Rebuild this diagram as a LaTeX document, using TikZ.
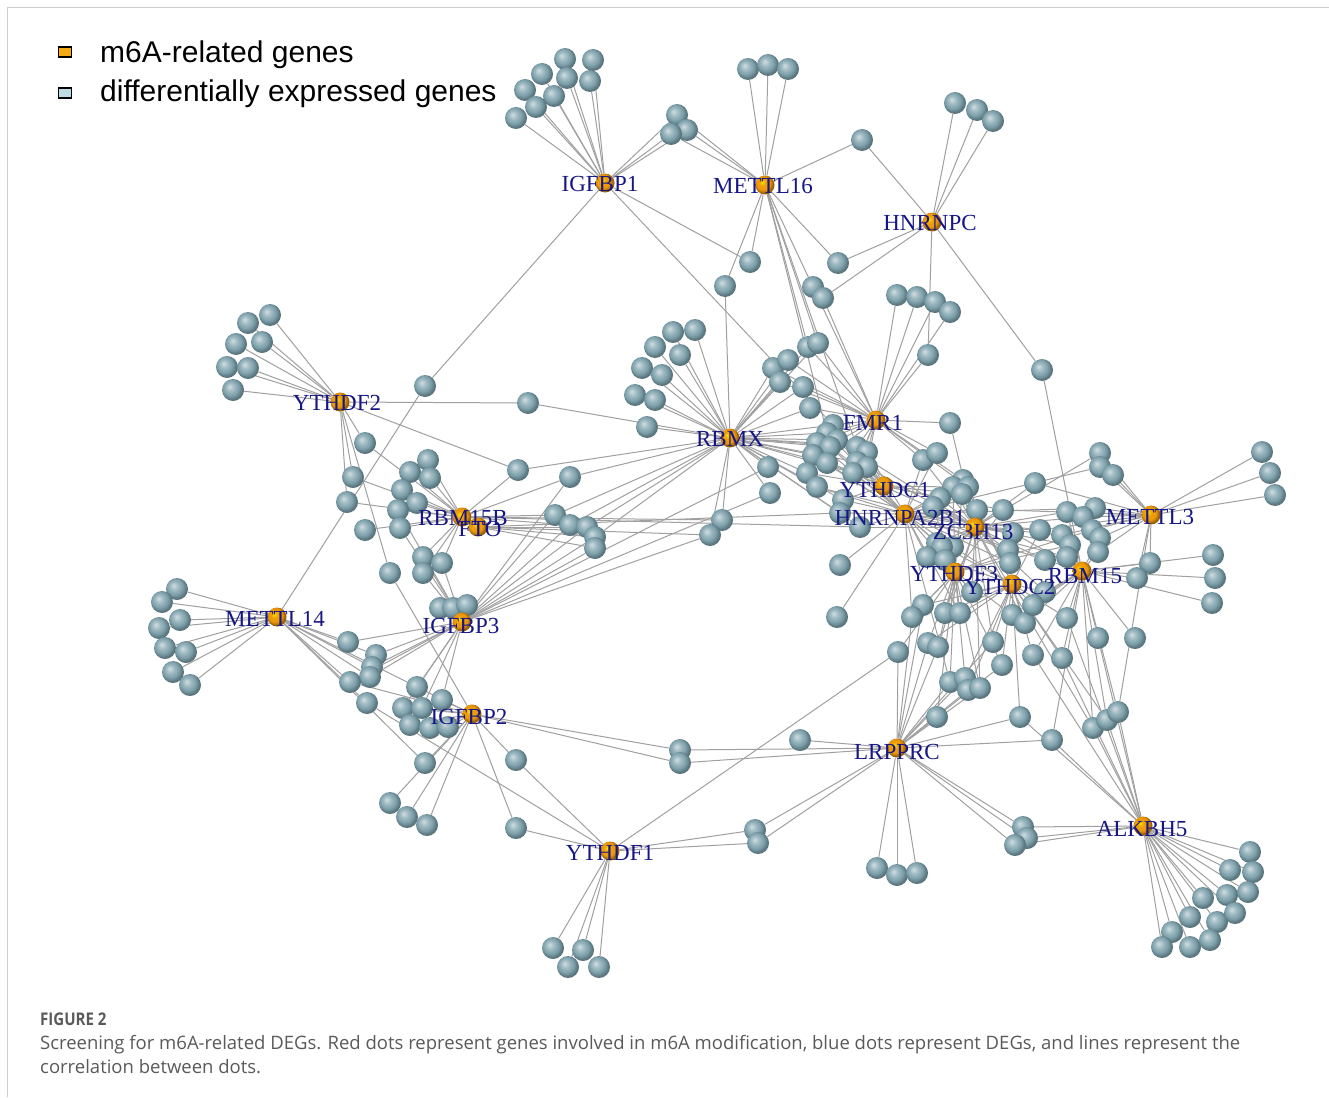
\documentclass[tikz,border=0pt]{standalone}
\usepackage{fontspec}
\setmainfont{Liberation Serif}
\newfontfamily\legfont{Liberation Sans}
\newfontfamily\capfont{Open Sans}
\definecolor{leafc}{RGB}{124,160,171}
\definecolor{hubc}{RGB}{235,150,10}
\definecolor{edgec}{RGB}{160,160,160}
\definecolor{lblc}{RGB}{22,22,135}
\definecolor{capc}{RGB}{90,90,90}
\definecolor{framec}{RGB}{205,205,205}
\definecolor{legorange}{RGB}{245,170,20}
\definecolor{legblue}{RGB}{190,220,228}
\pgfdeclareradialshading{leafball}{\pgfqpoint{-8bp}{8bp}}{color(0bp)=(leafc!35!white); color(9bp)=(leafc!72!white); color(18bp)=(leafc); color(25bp)=(leafc!75!black); color(50bp)=(leafc!45!black)}
\pgfdeclareradialshading{hubball}{\pgfqpoint{-8bp}{8bp}}{color(0bp)=(yellow!70!hubc); color(9bp)=(hubc!90!yellow); color(18bp)=(hubc); color(25bp)=(hubc!65!black); color(50bp)=(hubc!30!black)}
\pgfdeclarelayer{edges}
\pgfdeclarelayer{top}
\pgfsetlayers{edges,main,top}
\tikzset{
  leaf/.style={circle, inner sep=0pt, minimum size=22pt, shading=leafball},
  hub/.style={circle, inner sep=0pt, minimum size=19pt, shading=hubball},
  edge/.style={draw=edgec, line width=1pt},
  lbl/.style={text=lblc, inner sep=0pt, anchor=base, font=\fontsize{23}{23}\selectfont},
  legbox/.style={draw=black, line width=1.3pt, minimum width=13pt, minimum height=10pt, inner sep=0pt},
  legtext/.style={anchor=base west, inner sep=0pt, font=\legfont\fontsize{30}{30}\selectfont, text=black},
  captext/.style={anchor=base west, inner sep=0pt, text=capc, font=\capfont\fontsize{18.5}{18.5}\selectfont}
}
\begin{document}
\begin{tikzpicture}[x=1pt,y=-1pt]
\useasboundingbox (0,0) rectangle (1329,1097);
\begin{pgfonlayer}{edges}
\fill[white] (0,0) rectangle (1329,1097);
\draw[framec, line width=1pt] (7.5,1097) -- (7.5,7.5) -- (1329,7.5);
\end{pgfonlayer}

% hubs
\begin{pgfonlayer}{top}
\foreach \n/\x/\y in {IA/605/183, M16/765/185, HC/932/222, Y2/340/402, RX/730/438, FM/876/420, C1/884/486, HA/905/514, ZC/975/527, M3/1151/515, RB/462/517, FT/478/527, Y3/955/572, C2/1012/584, R15/1082/571, M14/277/617, I3/462/622, I2/472/714, LR/897/748, AK/1143/826, Y1/610/851}
  {\node[hub] (\n) at (\x,\y) {};}
\end{pgfonlayer}

% leaves and their connectors
\foreach \x/\y/\hs [count=\i] in {
565/59/IA, 593/60/IA, 542/74/IA, 567/78/IA, 590/81/IA, 525/90/IA, 554/96/IA, 536/107/IA, 516/118/IA,
677/115/{IA,M16}, 687/130/{IA,M16}, 671/134/{IA,M16}, 425/386/{IA,M14},
748/69/M16, 768/65/M16, 788/69/M16, 862/140/{M16,HC}, 750/262/{IA,M16}, 725/286/{M16,RX}, 838/263/{M16,HC},
955/103/HC, 977/110/HC, 993/121/HC, 928/355/{HC,FM}, 1042/370/{HC,R15},
270/315/Y2, 248/323/Y2, 236/344/Y2, 262/342/Y2, 227/367/Y2, 248/368/Y2, 233/390/Y2,
528/403/{Y2,RX}, 365/443/{Y2,RB}, 353/477/{Y2,RB}, 347/502/{Y2,RB}, 518/470/{Y2,RX,RB}, 390/573/{Y2,I2},
673/332/RX, 695/330/RX, 655/347/RX, 680/355/RX, 642/368/RX, 662/375/RX, 635/395/RX, 655/400/RX, 647/427/RX,
773/368/{RX,FM}, 788/360/{RX,FM}, 780/382/{RX,FM}, 803/387/{RX,FM}, 810/408/{RX,FM}, 808/347/{RX,FM,M16}, 818/343/{RX,FM,M16},
813/287/{M16,FM}, 823/298/{HC,FM}, 768/467/{RX,I3}, 770/493/{RX,I3}, 722/520/{RX,RB}, 710/535/{RX,FT,I3},
897/295/FM, 917/297/FM, 935/302/FM, 950/312/FM, 950/423/{FM,ZC},
833/425/{RX,FM,C1,IA}, 827/433/{RX,FM,HA,M16}, 837/440/{RX,C1,ZC}, 817/443/{RX,FM,HA}, 830/447/{RX,C1,HA}, 813/455/{RX,FM,HA,ZC},
827/463/{RX,C1,HA}, 807/473/{RX,FM,C1}, 817/487/{RX,HA,ZC}, 857/447/{RX,FM,C1,M16}, 867/452/{FM,C1,HA}, 857/462/{RX,FM,HA},
867/467/{FM,C1,ZC}, 853/473/{RX,FM,HA}, 843/500/{RX,C1,HA}, 840/513/{RX,HA,FT}, 860/527/{RX,HA,ZC,RB},
923/460/{FM,HA,ZC}, 937/453/{FM,HA}, 963/480/{FM,ZC,HA,C2}, 953/487/{C1,ZC,Y3}, 940/498/{C1,HA,ZC}, 968/487/{FM,ZC,C2},
962/494/{C1,ZC,Y3}, 933/507/{HA,ZC,Y3}, 977/510/{ZC,HA,C2}, 937/543/{HA,ZC,Y3,C2}, 953/547/{HA,Y3,C2,ZC},
1035/483/{ZC,M3}, 1100/453/{M3,ZC}, 1100/467/{M3,HA}, 1113/475/M3, 1262/452/M3, 1270/473/M3, 1275/495/M3,
1003/510/{ZC,M3,C1,Y3}, 1067/512/{ZC,M3,R15}, 1095/508/{M3,HA}, 1083/517/{M3,ZC}, 1040/530/{ZC,M3,C2,HA},
1062/535/{ZC,R15,M3}, 1092/530/{M3,Y3}, 1100/538/{M3,R15}, 1070/545/{ZC,R15,Y3}, 1013/533/{ZC,HA,R15},
1008/550/{ZC,C2,HA,Y3}, 1010/563/{ZC,C2,HA}, 1045/560/{R15,ZC,HA}, 1067/557/{R15,HA}, 1098/552/{R15,M3},
1150/563/{R15,M3}, 1137/578/{R15,M3}, 1213/555/R15, 1215/578/R15, 1212/603/R15,
942/547/{HA,Y3,ZC}, 927/557/{HA,Y3}, 945/560/{Y3,ZC,C2}, 840/565/HA, 837/617/HA, 972/592/{Y3,C2,ZC,HA}, 1045/592/{C2,R15,ZC},
923/605/{Y3,C2,LR}, 912/617/{Y3,HA,LR}, 945/613/{Y3,C2,ZC}, 960/613/{Y3,C2,HA}, 1012/615/{C2,R15,Y3},
1025/623/{C2,R15,ZC}, 1033/605/{C2,R15}, 1067/618/{R15,C2,AK}, 1098/638/{R15,AK}, 1135/638/R15,
898/652/{Y3,LR,Y1}, 928/643/{Y3,C2,LR}, 938/647/{Y3,LR,ZC}, 993/642/{C2,ZC,LR}, 1002/665/{C2,Y3,LR},
1033/655/{C2,R15,AK}, 1062/658/{R15,AK,C2}, 950/682/{Y3,LR,HA}, 965/678/{Y3,C2,LR}, 968/690/{C2,LR},
980/688/{Y3,LR,ZC}, 937/717/{LR,Y3}, 1020/717/{LR,C2,AK}, 1052/740/{LR,R15,AK}, 1093/728/{AK,R15,ZC},
1107/720/{AK,R15,C2}, 1118/712/{AK,R15,M3},
877/868/LR, 897/875/LR, 917/873/LR, 800/740/LR, 680/750/{LR,I2}, 680/763/{LR,I2}, 755/830/{LR,Y1}, 758/843/{LR,Y1},
1023/827/{LR,AK}, 1027/838/{LR,AK}, 1015/845/{LR,AK},
1250/852/AK, 1230/870/AK, 1253/872/AK, 1203/898/AK, 1227/895/AK, 1248/892/AK, 1190/917/AK, 1217/922/AK,
1235/913/AK, 1172/932/AK, 1162/947/AK, 1190/947/AK, 1210/940/AK,
553/948/Y1, 583/950/Y1, 568/967/Y1, 599/967/Y1, 516/760/{Y1,I2}, 516/828/{Y1,I2},
425/763/{M14,I2}, 390/803/I2, 407/817/I2, 427/825/I2, 417/687/{I2,I3,M14}, 442/700/{I2,I3}, 403/708/{I2,I3},
422/708/{I2,I3}, 410/725/I2, 430/728/I2, 448/727/I2,
177/589/M14, 162/602/M14, 180/620/M14, 159/628/M14, 165/648/M14, 186/652/M14, 173/672/M14, 190/685/M14,
348/642/{M14,I3}, 376/655/{M14,I3}, 372/667/{M14,I3}, 370/677/{M14,I3}, 350/682/{M14,I3,I2}, 367/703/{M14,Y1},
440/608/I3, 453/608/I3, 467/605/I3, 423/557/{I3,RB}, 442/563/{I3,RB}, 423/573/{I3,RB},
428/460/RB, 410/472/RB, 430/478/RB, 402/490/RB, 417/503/RB, 398/510/{RB,I3}, 400/528/{RB,I3}, 365/530/RB,
570/477/{RB,RX,I3}, 555/515/{RB,RX,I3}, 570/525/{RB,RX,I3}, 587/527/{FT,RX,I3}, 595/537/{FT,RX,I3}, 595/548/{FT,I3}}{
  \node[leaf] (L\i) at (\x,\y) {};
  \begin{pgfonlayer}{edges}
    \foreach \h in \hs {\draw[edge] (L\i) -- (\h);}
  \end{pgfonlayer}
}

% labels
\begin{pgfonlayer}{top}
\foreach \n/\t/\x/\y in {IA/IGFBP1/600/184, M16/METTL16/763/186, HC/HNRNPC/930/223, Y2/YTHDF2/337/403,
  RX/RBMX/730/439, FM/FMR1/873/423, C1/YTHDC1/885/490, HA/HNRNPA2B1/900/518, ZC/ZC3H13/973/532,
  M3/METTL3/1150/517, RB/RBM15B/463/518, FT/FTO/480/529, Y3/YTHDF3/954/574, C2/YTHDC2/1010/587,
  R15/RBM15/1085/576, M14/METTL14/275/619, I3/IGFBP3/461/626, I2/IGFBP2/469/717, LR/LRPPRC/897/752,
  AK/ALKBH5/1142/829, Y1/YTHDF1/610/853}
  {\node[lbl] (t\n) at (\x,\y+7.5) {\t};}
\end{pgfonlayer}

% legend
\node[legbox, fill=legorange] (k1) at (65,52) {};
\node[legbox, fill=legblue] (k2) at (65,93) {};
\node[legtext] (kt1) at (100,63) {m6A-related genes};
\node[legtext] (kt2) at (100,102) {differentially expressed genes};

% caption
\node[captext, font=\capfont\bfseries\fontsize{17.5}{17.5}\selectfont] (fig) at (40,1025) {\scalebox{0.86}[1]{FIGURE 2}};
\node[captext] (cap1) at (40,1049) {Screening for m6A-related DEGs. Red dots represent genes involved in m6A modification, blue dots represent DEGs, and lines represent the};
\node[captext] (cap2) at (40,1073) {correlation between dots.};
\end{tikzpicture}
\end{document}
